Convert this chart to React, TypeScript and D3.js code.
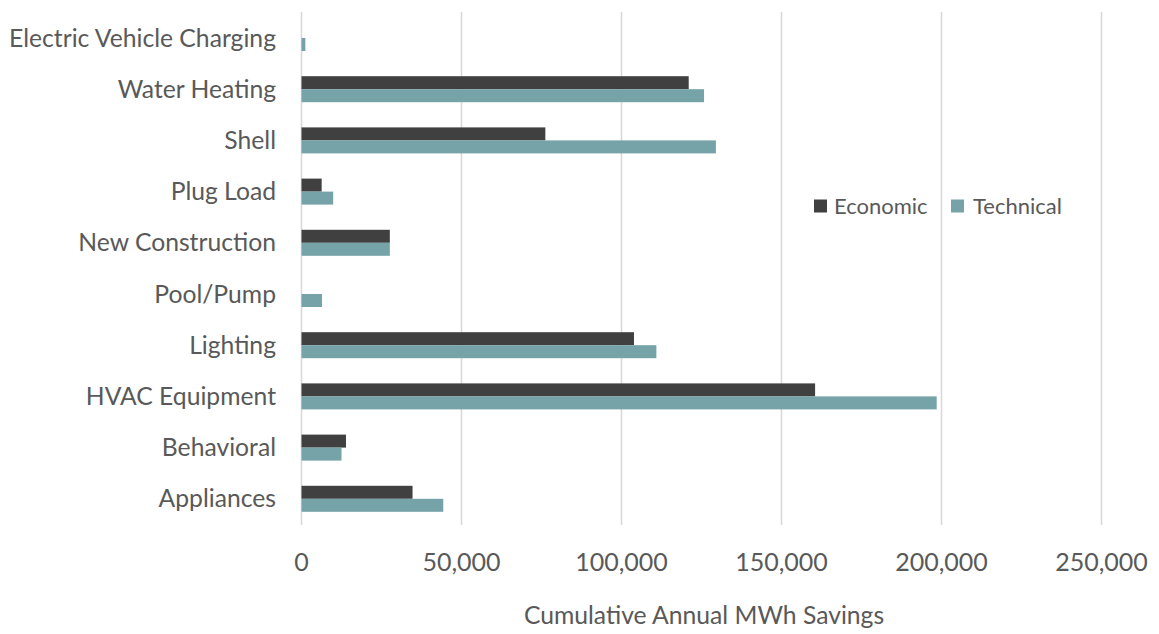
import React from "react";
import * as d3 from "d3";

const categories = [
  "Electric Vehicle Charging",
  "Water Heating",
  "Shell",
  "Plug Load",
  "New Construction",
  "Pool/Pump",
  "Lighting",
  "HVAC Equipment",
  "Behavioral",
  "Appliances",
];
const economic = [0, 121000, 76200, 6300, 27600, 0, 103900, 160500, 13900, 34700];
const technical = [1200, 125800, 129500, 9900, 27600, 6400, 110900, 198500, 12500, 44300];
const xTicks = [0, 50000, 100000, 150000, 200000, 250000];
const seriesNames = ["Economic", "Technical"];
const seriesColors = ["#404040", "#76A3A7"];

const W = 1159;
const H = 634;
const FONT = "Lato, 'Open Sans', sans-serif";
const TEXT = "#595959";

export default function App() {
  const x = d3.scaleLinear().domain([0, 250000]).range([301.5, 1101.5]);
  const y = d3.scaleBand<string>().domain(categories).range([12.4, 524.4]).padding(0);
  const barH = 13;
  const fmt = d3.format(",");
  return (
    <svg width={W} height={H} style={{ position: "absolute", left: 0, top: 0, background: "#fff" }}>
      {xTicks.map((t) => (
        <line key={t} x1={x(t)} x2={x(t)} y1={12} y2={525} stroke="#d9d9d9" strokeWidth={1.6} />
      ))}
      {categories.map((c, i) => {
        const cy = (y(c) as number) + y.bandwidth() / 2;
        return (
          <g key={c}>
            {economic[i] > 0 && (
              <rect x={x(0)} y={cy - barH} width={x(economic[i]) - x(0)} height={barH} fill={seriesColors[0]} />
            )}
            {technical[i] > 0 && (
              <rect x={x(0)} y={cy} width={x(technical[i]) - x(0)} height={barH} fill={seriesColors[1]} />
            )}
            <text x={276} y={cy} dy="0.35em" textAnchor="end" fontFamily={FONT} fontSize={24.7} fill={TEXT}>
              {c}
            </text>
          </g>
        );
      })}
      {xTicks.map((t) => (
        <text key={"l" + t} x={x(t)} y={562} dy="0.35em" textAnchor="middle" fontFamily={FONT} fontSize={25} fill={TEXT}>
          {fmt(t)}
        </text>
      ))}
      <text x={704} y={615} dy="0.35em" textAnchor="middle" fontFamily={FONT} fontSize={24.7} fill={TEXT}>
        Cumulative Annual MWh Savings
      </text>
      <g>
        <rect x={814} y={199.5} width={13} height={13} fill={seriesColors[0]} />
        <text x={834} y={206} dy="0.35em" fontFamily={FONT} fontSize={22} fill={TEXT}>
          {seriesNames[0]}
        </text>
        <rect x={951} y={199.5} width={13} height={13} fill={seriesColors[1]} />
        <text x={973} y={206} dy="0.35em" fontFamily={FONT} fontSize={22} fill={TEXT}>
          {seriesNames[1]}
        </text>
      </g>
    </svg>
  );
}
